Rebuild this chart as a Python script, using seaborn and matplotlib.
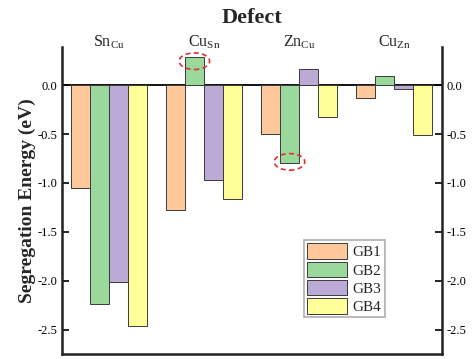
import seaborn as sns
import numpy as np
import pandas as pd
import matplotlib.pyplot as plt
from matplotlib.patches import Ellipse

# datos
defects = [r'Sn$_{\mathrm{Cu}}$', r'Cu$_{\mathrm{Sn}}$', r'Zn$_{\mathrm{Cu}}$', r'Cu$_{\mathrm{Zn}}$']
gbs = ['GB1', 'GB2', 'GB3', 'GB4']
gb1 = [-1.05, -1.28, -0.50, -0.13]
gb2 = [-2.24, 0.29, -0.80, 0.09]
gb3 = [-2.01, -0.975, 0.17, -0.04]
gb4 = [-2.46, -1.16, -0.33, -0.51]
colores = ['#FEC89A', '#9AD89B', '#BCAAD6', '#FFFF9A']
# barras marcadas con elipse roja: (defecto, GB)
marcadas = [(1, 1), (2, 1)]

df = pd.DataFrame({'Defect': np.repeat(defects, 4),
                   'GB': gbs * 4,
                   'E': np.array([gb1, gb2, gb3, gb4]).T.ravel()})

sns.set_style('ticks')
plt.rcParams['font.family'] = ['Liberation Serif', 'DejaVu Serif']
plt.rcParams['mathtext.fontset'] = 'custom'
plt.rcParams['mathtext.rm'] = 'Liberation Serif'

fig, ax = plt.subplots(figsize=(4.74, 3.59), dpi=100)
sns.barplot(data=df, x='Defect', y='E', hue='GB', palette=colores,
            edgecolor='#3a3a3a', linewidth=0.7, width=0.8, saturation=1, ax=ax)

ax.axhline(0, color='black', lw=1.3, zorder=0)
ax.set_xlim(-0.49, 3.5)
ax.set_ylim(-2.75, 0.39)
ax.set_yticks([0.0, -0.5, -1.0, -1.5, -2.0, -2.5])
ax.set_yticklabels(['0.0', '-0.5', '-1.0', '-1.5', '-2.0', '-2.5'])
ax.xaxis.tick_top()
ax.tick_params(axis='x', length=0, labelsize=11.5, pad=-3)
ax.tick_params(axis='y', direction='in', length=5, width=1.2, labelsize=9,
               right=True, labelright=True, colors='black')
ax.set_xlabel('')
ax.set_ylabel('Segregation Energy (eV)', fontsize=14, fontweight='bold', labelpad=1)
ax.set_title('Defect', fontsize=16, fontweight='bold', pad=17)
ax.spines['top'].set_visible(False)
for s in ['left', 'right', 'bottom']:
    ax.spines[s].set_linewidth(1.8)
    ax.spines[s].set_color('#222222')

# elipses rojas
valores = [gb1, gb2, gb3, gb4]
for d, g in marcadas:
    xc = d - 0.3 + 0.2 * g
    yc = valores[g][d] - 0.045 if valores[g][d] > 0 else valores[g][d] + 0.015
    ax.add_patch(Ellipse((xc, yc), 0.32, 0.17, fill=False, ec='#E03030',
                         ls=(0, (3, 2)), lw=1.2, zorder=5))

leg = ax.legend(loc='lower left', bbox_to_anchor=(0.637, 0.12), fontsize=11,
                frameon=True, fancybox=False, edgecolor='#999999',
                handlelength=2.6, handleheight=1.2, labelspacing=0.15,
                borderpad=0.2, handletextpad=0.4, borderaxespad=0)
leg.get_frame().set_linewidth(1.2)

plt.subplots_adjust(left=0.131, right=0.932, top=0.869, bottom=0.014)
plt.savefig('out.png', dpi=100)
